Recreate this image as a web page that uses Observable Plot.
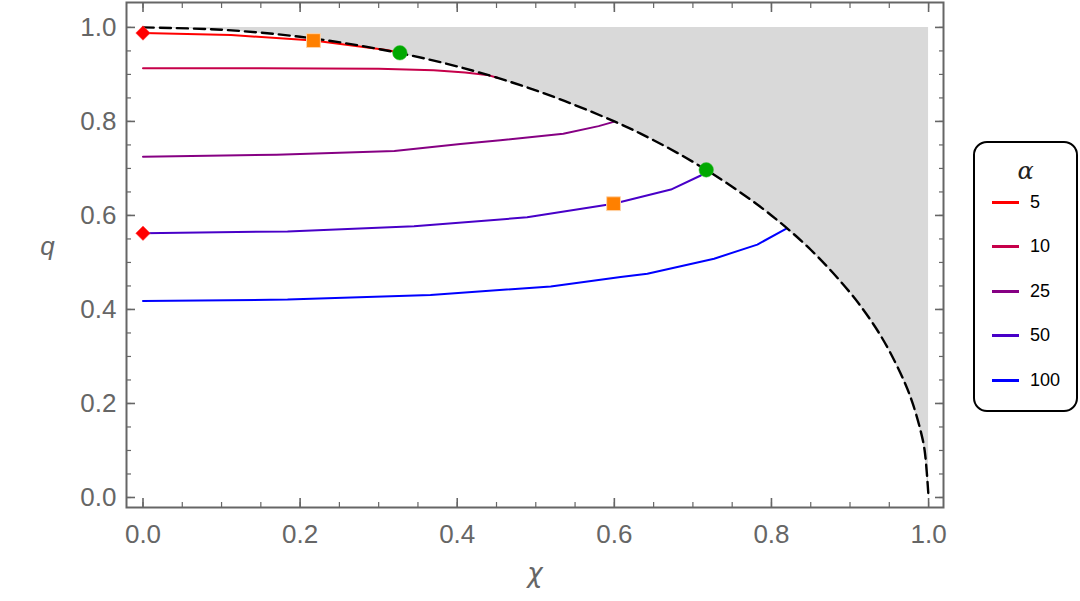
<!DOCTYPE html>
<html>
<head>
<meta charset="utf-8">
<script src="https://cdn.jsdelivr.net/npm/d3@7"></script>
<script src="https://cdn.jsdelivr.net/npm/@observablehq/plot@0.6"></script>
<style>
  html, body { margin: 0; padding: 0; background: #fff; }
  #wrap { position: relative; width: 1080px; height: 601px; font-family: "Liberation Sans", Arial, sans-serif; }
  #legend { position: absolute; left: 973px; top: 141px; width: 105px; height: 271px; box-sizing: border-box;
            border: 2px solid #000; border-radius: 14px; background: #fff; }
  #legend .title { position: absolute; left: 0; width: 100%; top: 14px; text-align: center; font-style: italic; font-size: 24px; color: #222; font-family: "DejaVu Serif", serif; }
  #legend .row { position: absolute; left: 17px; height: 20px; display: flex; align-items: center; }
  #legend .sw { width: 27px; height: 3px; margin-right: 11px; }
  #legend .lab { font-size: 18px; color: #000; }
</style>
</head>
<body>
<div id="wrap">
  <div id="chart"></div>
  <div id="legend"></div>
</div>
<script>
// ---- data ----
const alphas = [5, 10, 25, 50, 100];
const colors = ["#ff0000", "#c6004a", "#860083", "#4800c8", "#0000ff"];

const chi5 = [0, 0.112, 0.217, 0.31, 0.327];
const q5   = [0.988, 0.984, 0.972, 0.952, 0.946];

const chi10 = [0, 0.15, 0.3, 0.37, 0.41, 0.438, 0.451];
const q10   = [0.913, 0.913, 0.912, 0.909, 0.904, 0.899, 0.893];

const chi25 = [0, 0.17, 0.32, 0.404, 0.455, 0.535, 0.58, 0.599];
const q25   = [0.725, 0.729, 0.737, 0.752, 0.76, 0.774, 0.79, 0.799];

const chi50 = [0, 0.184, 0.345, 0.489, 0.599, 0.672, 0.71, 0.717];
const q50   = [0.562, 0.566, 0.577, 0.596, 0.625, 0.655, 0.685, 0.697];

const chi100 = [0, 0.184, 0.366, 0.519, 0.608, 0.642, 0.727, 0.782, 0.819];
const q100   = [0.418, 0.421, 0.431, 0.449, 0.469, 0.476, 0.508, 0.538, 0.572];

const boundaryChi = [0, 0.1, 0.2, 0.3, 0.4, 0.5, 0.6, 0.65, 0.7, 0.75, 0.8, 0.85, 0.9, 0.93, 0.95, 0.97, 0.98, 0.99, 0.995, 1.0];
const boundaryQ   = [1.0, 0.995, 0.98, 0.954, 0.917, 0.866, 0.8, 0.76, 0.714, 0.661, 0.6, 0.527, 0.436, 0.368, 0.312, 0.243, 0.199, 0.141, 0.1, 0.0];

const diamondChi = [0, 0];
const diamondQ   = [0.988, 0.562];
const squareChi  = [0.217, 0.599];
const squareQ    = [0.972, 0.625];
const circleChi  = [0.327, 0.717];
const circleQ    = [0.946, 0.697];

const majorTicks = [0, 0.2, 0.4, 0.6, 0.8, 1.0];
const minorTicks = [0, 0.05, 0.1, 0.15, 0.2, 0.25, 0.3, 0.35, 0.4, 0.45, 0.5, 0.55, 0.6, 0.65, 0.7, 0.75, 0.8, 0.85, 0.9, 0.95, 1.0];

// ---- build tables ----
const seriesChi = [chi5, chi10, chi25, chi50, chi100];
const seriesQ = [q5, q10, q25, q50, q100];
const rows = [];
alphas.forEach((a, i) => seriesChi[i].forEach((c, j) => rows.push({alpha: a, chi: c, q: seriesQ[i][j]})));
const boundary = boundaryChi.map((c, i) => ({chi: c, q: boundaryQ[i]}));
const pts = (xs, ys) => xs.map((c, i) => ({chi: c, q: ys[i]}));

const gray = "#666666";
const fmt = d3.format(".1f");

const chart = Plot.plot({
  width: 1080,
  height: 601,
  marginLeft: 126,
  marginRight: 137,
  marginTop: 2,
  marginBottom: 94,
  style: {fontFamily: "Liberation Sans, Arial, sans-serif", background: "#fff", overflow: "visible"},
  x: {domain: [-0.021, 1.019], axis: null},
  y: {domain: [-0.0213, 1.053], axis: null},
  color: {type: "ordinal", domain: alphas, range: colors},
  marks: [
    Plot.areaY(boundary, {x: "chi", y1: "q", y2: 1, fill: "#d9d9d9"}),
    Plot.line(rows, {x: "chi", y: "q", z: "alpha", stroke: "alpha", strokeWidth: 2, curve: "linear"}),
    Plot.line(boundary, {x: "chi", y: "q", stroke: "#000", strokeWidth: 2.4, strokeDasharray: "11,6", curve: "catmull-rom"}),
    Plot.dot(pts(diamondChi, diamondQ), {x: "chi", y: "q", symbol: "diamond2", r: 6.5, fill: "#ff0000", stroke: "#ff4040", strokeWidth: 0.5}),
    Plot.dot(pts(squareChi, squareQ), {x: "chi", y: "q", symbol: "square", r: 7.8, fill: "#ff8000", stroke: "#ffd3a8", strokeWidth: 1}),
    Plot.dot(pts(circleChi, circleQ), {x: "chi", y: "q", symbol: "circle", r: 7.3, fill: "#00a800", stroke: "#40c040", strokeWidth: 0.5}),
    Plot.frame({stroke: gray, strokeWidth: 2}),
    // ticks (inward)
    Plot.axisX({anchor: "bottom", ticks: majorTicks, tickSize: -9, fill: "none", stroke: gray, strokeWidth: 1.6, label: null}),
    Plot.axisX({anchor: "bottom", ticks: minorTicks, tickSize: -5, fill: "none", stroke: gray, strokeWidth: 1.2, label: null}),
    Plot.axisX({anchor: "top", ticks: majorTicks, tickSize: -9, fill: "none", stroke: gray, strokeWidth: 1.6, label: null}),
    Plot.axisX({anchor: "top", ticks: minorTicks, tickSize: -5, fill: "none", stroke: gray, strokeWidth: 1.2, label: null}),
    Plot.axisY({anchor: "left", ticks: majorTicks, tickSize: -9, fill: "none", stroke: gray, strokeWidth: 1.6, label: null}),
    Plot.axisY({anchor: "left", ticks: minorTicks, tickSize: -5, fill: "none", stroke: gray, strokeWidth: 1.2, label: null}),
    Plot.axisY({anchor: "right", ticks: majorTicks, tickSize: -9, fill: "none", stroke: gray, strokeWidth: 1.6, label: null}),
    Plot.axisY({anchor: "right", ticks: minorTicks, tickSize: -5, fill: "none", stroke: gray, strokeWidth: 1.2, label: null}),
    // tick labels
    Plot.axisX({anchor: "bottom", ticks: majorTicks, tickSize: 0, tickPadding: 17, tickFormat: fmt, fill: gray, fontSize: 26, label: null}),
    Plot.axisY({anchor: "left", ticks: majorTicks, tickSize: 0, tickPadding: 10, tickFormat: fmt, fill: gray, fontSize: 26, label: null}),
    // axis titles
    Plot.text(["q"], {frameAnchor: "left", text: d => d, dx: -79, dy: -8, fontSize: 26, fontStyle: "italic", fill: gray, textAnchor: "middle"}),
    Plot.text(["χ"], {frameAnchor: "bottom", text: d => d, dy: 74, fontSize: 26, fontStyle: "italic", fill: gray, textAnchor: "middle", fontFamily: "DejaVu Sans"})
  ]
});
document.getElementById("chart").appendChild(chart);

// ---- legend ----
const legend = document.getElementById("legend");
const t = document.createElement("div");
t.className = "title";
t.textContent = "α";
legend.appendChild(t);
alphas.forEach((a, i) => {
  const r = document.createElement("div");
  r.className = "row";
  r.style.top = (49 + i * 44.5) + "px";
  const sw = document.createElement("div");
  sw.className = "sw";
  sw.style.background = colors[i];
  const lab = document.createElement("span");
  lab.className = "lab";
  lab.textContent = a;
  r.appendChild(sw);
  r.appendChild(lab);
  legend.appendChild(r);
});
</script>
</body>
</html>
